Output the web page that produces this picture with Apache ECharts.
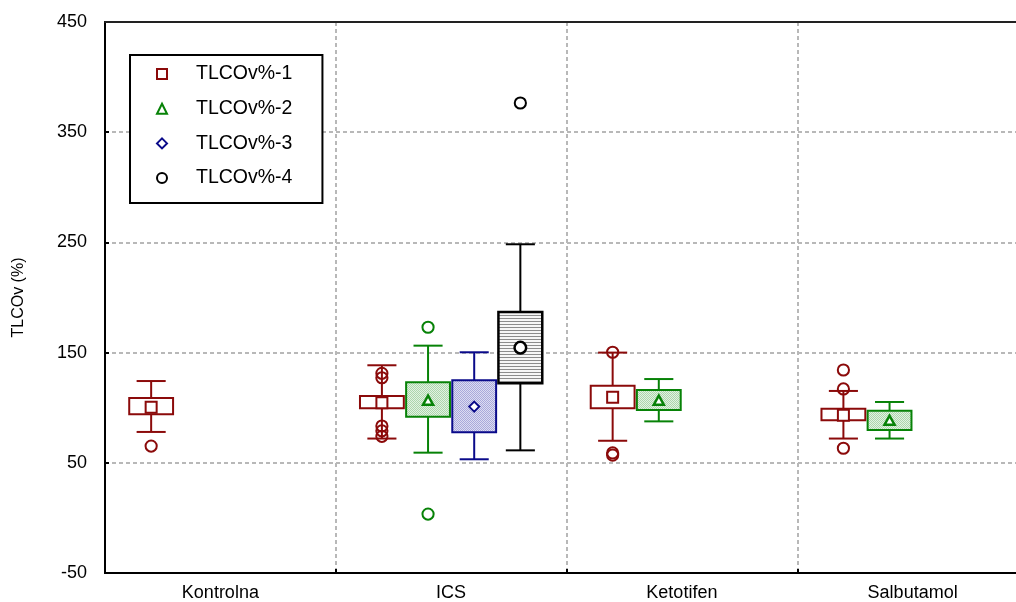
<!DOCTYPE html>
<html>
<head>
<meta charset="utf-8">
<script src="https://cdn.jsdelivr.net/npm/echarts@6/dist/echarts.min.js"></script>
<style>
html,body{margin:0;padding:0;background:#fff;overflow:hidden;width:1016px;height:602px;}
#chart{width:1028px;height:602px;}
</style>
</head>
<body>
<div id="chart"></div>
<script>
// ---- data ----
const categories = ['Kontrolna', 'ICS', 'Ketotifen', 'Salbutamol'];
const seriesNames = ['TLCOv%-1', 'TLCOv%-2', 'TLCOv%-3', 'TLCOv%-4'];
const yTicks = [-50, 50, 150, 250, 350, 450];
// [categoryIndex, whiskerLow, boxLow, mean, boxHigh, whiskerHigh]
const box1 = [[0, 78, 94, 100.4, 108.8, 124.2], [1, 72, 99.4, 104.5, 110.6, 138.5], [2, 70, 99.4, 109.4, 120, 150], [3, 72, 88.5, 93.1, 99.1, 115.2]];
const box2 = [[1, 59.2, 91.8, 106.4, 123, 156.3], [2, 87.6, 98, 106.4, 116, 126], [3, 72, 79.8, 88.2, 97.3, 105.2]];
const box3 = [[1, 53.2, 77.7, 101, 124.9, 150.3]];
const box4 = [[1, 61.3, 122.1, 154.5, 186.8, 248.3]];
// [categoryIndex, value]
const out1 = [[0, 65.2], [1, 131.2], [1, 127.2], [1, 83.4], [1, 79], [1, 74], [2, 150.3], [2, 59], [2, 57], [3, 134.2], [3, 117], [3, 63.2]];
const out2 = [[1, 173], [1, 3.5]];
const out3 = [];
const out4 = [[1, 376.5]];

const colors = ['#8b0a0a', '#078207', '#0a0a8a', '#000000'];

function pattern(w, h, drawFn) {
  const c = document.createElement('canvas');
  c.width = w; c.height = h;
  const ctx = c.getContext('2d');
  drawFn(ctx);
  return { image: c, repeat: 'repeat' };
}
const fills = [
  '#ffffff',
  pattern(2, 2, ctx => { ctx.fillStyle = '#e2f1e2'; ctx.fillRect(0, 0, 2, 2); ctx.fillStyle = '#acd6ac'; ctx.fillRect(0, 0, 1, 1); ctx.fillRect(1, 1, 1, 1); }),
  pattern(2, 2, ctx => { ctx.fillStyle = '#dcdcf2'; ctx.fillRect(0, 0, 2, 2); ctx.fillStyle = '#a9a9db'; ctx.fillRect(0, 0, 1, 1); ctx.fillRect(1, 1, 1, 1); }),
  pattern(4, 3, ctx => { ctx.fillStyle = '#f6f6f6'; ctx.fillRect(0, 0, 4, 3); ctx.fillStyle = '#8c8c8c'; ctx.fillRect(0, 0, 4, 1); })
];

function markerShape(k, x, y, color) {
  const st = { fill: '#ffffff', stroke: color, lineWidth: 2 };
  if (k === 0) return { type: 'rect', shape: { x: x - 5.5, y: y - 5.5, width: 11, height: 11 }, style: st };
  if (k === 1) return { type: 'polygon', shape: { points: [[x, y - 5], [x - 5, y + 4], [x + 5, y + 4]] }, style: Object.assign({}, st, { lineWidth: 2.5 }) };
  if (k === 2) return { type: 'polygon', shape: { points: [[x, y - 5], [x + 5, y], [x, y + 5], [x - 5, y]] }, style: st };
  return { type: 'circle', shape: { cx: x, cy: y, r: 5.8 }, style: Object.assign({}, st, { lineWidth: 2.5 }) };
}

function xPos(api, cat, k) {
  const base = api.coord([cat, 0])[0];
  const slot = api.size([1, 0])[0] / 5;
  return { x: base + (k - 1.5) * slot, slot: slot };
}

function boxRenderer(k) {
  return function (params, api) {
    const cat = api.value(0);
    const p = xPos(api, cat, k);
    const x = p.x;
    const bw = p.slot * 0.95;
    const cw = p.slot * 0.63;
    const Y = v => api.coord([cat, v])[1];
    const wl = Y(api.value(1)), bl = Y(api.value(2)), mn = Y(api.value(3)), bh = Y(api.value(4)), wh = Y(api.value(5));
    const c = colors[k];
    const ls = { stroke: c, lineWidth: 2 };
    return {
      type: 'group',
      children: [
        { type: 'line', shape: { x1: x, y1: wl, x2: x, y2: bl }, style: ls },
        { type: 'line', shape: { x1: x, y1: bh, x2: x, y2: wh }, style: ls },
        { type: 'line', shape: { x1: x - cw / 2, y1: wl, x2: x + cw / 2, y2: wl }, style: ls },
        { type: 'line', shape: { x1: x - cw / 2, y1: wh, x2: x + cw / 2, y2: wh }, style: ls },
        { type: 'rect', shape: { x: x - bw / 2, y: bh, width: bw, height: bl - bh }, style: { fill: fills[k], stroke: c, lineWidth: k === 3 ? 2.5 : 2 } },
        markerShape(k, x, mn, c)
      ]
    };
  };
}

function outlierRenderer(k) {
  return function (params, api) {
    const cat = api.value(0);
    const x = xPos(api, cat, k).x;
    const y = api.coord([cat, api.value(1)])[1];
    return { type: 'circle', shape: { cx: x, cy: y, r: 5.6 }, style: { fill: 'none', stroke: colors[k], lineWidth: 2 } };
  };
}

const boxes = [box1, box2, box3, box4];
const outs = [out1, out2, out3, out4];
const series = [];
for (let k = 0; k < 4; k++) {
  series.push({ type: 'custom', name: seriesNames[k], renderItem: boxRenderer(k), data: boxes[k], encode: { x: 0, y: [1, 2, 3, 4, 5] }, z: 3, silent: true });
  series.push({ type: 'custom', name: seriesNames[k], renderItem: outlierRenderer(k), data: outs[k], encode: { x: 0, y: 1 }, z: 4, silent: true });
}

const legendIcons = ['rect', 'triangle', 'diamond', 'circle'];

const chart = echarts.init(document.getElementById('chart'), null, { renderer: 'canvas' });
chart.setOption({
  animation: false,
  backgroundColor: '#ffffff',
  textStyle: { fontFamily: 'Liberation Sans, Arial, sans-serif' },
  grid: { left: 105, top: 22, right: 0, bottom: 29, show: true, borderColor: '#222222', borderWidth: 2, backgroundColor: 'transparent' },
  legend: {
    orient: 'vertical',
    left: 130, top: 55,
    padding: [9, 30, 15, 26],
    itemGap: 14.7,
    itemWidth: 10, itemHeight: 10,
    borderColor: '#000', borderWidth: 2,
    backgroundColor: '#fff',
    selectedMode: false,
    textStyle: { fontSize: 19.5, color: '#000', padding: [0, 0, 0, 24], fontFamily: 'Liberation Sans, Arial, sans-serif' },
    data: seriesNames.map((n, i) => ({ name: n, icon: legendIcons[i], itemStyle: { color: '#fff', borderColor: colors[i], borderWidth: 2 } }))
  },
  xAxis: [{
    type: 'category',
    data: categories,
    boundaryGap: true,
    axisLine: { onZero: false, lineStyle: { color: '#000', width: 2 } },
    axisTick: { show: true, inside: true, length: 4, lineStyle: { color: '#000', width: 2 } },
    axisLabel: { fontSize: 18, color: '#000', margin: 11 },
    splitLine: { show: true, lineStyle: { color: '#b8b8b8', type: [4, 3], width: 2 } }
  }, {
    type: 'category',
    data: categories,
    position: 'top',
    z: 5,
    axisLine: { show: true, onZero: false, lineStyle: { color: '#222', width: 2 } },
    axisTick: { show: false },
    axisLabel: { show: false },
    splitLine: { show: false }
  }],
  yAxis: {
    type: 'value',
    min: -50, max: 450, interval: 100,
    name: 'TLCOv (%)',
    nameLocation: 'middle',
    nameGap: 78,
    nameTextStyle: { fontSize: 16, color: '#000' },
    axisLine: { show: true, lineStyle: { color: '#000', width: 2 } },
    axisTick: { show: true, inside: true, length: 4, lineStyle: { color: '#000', width: 2 } },
    axisLabel: { fontSize: 18, color: '#000', margin: 18, formatter: v => (yTicks.indexOf(v) >= 0 ? String(v) : '') },
    splitLine: { show: true, lineStyle: { color: '#b8b8b8', type: [4, 3], width: 2 } }
  },
  series: series
});
</script>
</body>
</html>
